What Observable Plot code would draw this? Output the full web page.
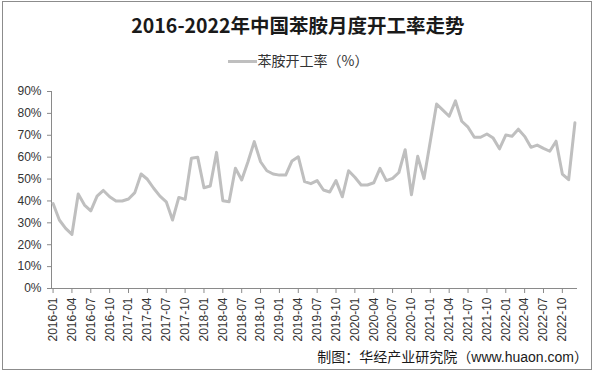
<!DOCTYPE html>
<html>
<head>
<meta charset="utf-8">
<script src="https://cdn.jsdelivr.net/npm/d3@7"></script>
<script src="https://cdn.jsdelivr.net/npm/@observablehq/plot@0.6"></script>
<style>
  body { margin: 0; background: #fff; }
  #wrap { position: relative; width: 596px; height: 374px; overflow: hidden; background: #fff;
          font-family: "Liberation Sans", "Noto Sans CJK SC", sans-serif; }
  #border { position: absolute; left: 2px; top: 1px; width: 590px; height: 369px;
            border: 1px solid #8c8c8c; box-sizing: border-box; }
  #title { position: absolute; left: 0; width: 596px; top: 11px; text-align: center;
           font-family: "Noto Sans CJK SC", sans-serif; font-weight: bold; font-size: 19.5px;
           color: #1a1a1a; line-height: 28px; }
  #legend { position: absolute; left: 0; width: 596px; top: 50px; text-align: center;
            font-family: "Noto Sans CJK SC", sans-serif; font-size: 14px; color: #333; line-height: 20px; }
  #legend .sw { display: inline-block; width: 29px; height: 3px; background: #bfbfbf;
                vertical-align: middle; margin-right: 1px; position: relative; top: -1px; }
  #chart { position: absolute; left: 0; top: 0; }
  #chart text { fill: #333; }
  #caption { position: absolute; right: 8px; top: 347px; font-size: 14px; color: #1a1a1a;
             font-family: "Liberation Sans", "Noto Sans CJK SC", sans-serif; line-height: 20px; }
</style>
</head>
<body>
<div id="wrap">
  <div id="border"></div>
  <div id="chart"></div>
  <div id="title">2016-2022年中国苯胺月度开工率走势</div>
  <div id="legend"><span class="sw"></span>苯胺开工率（%）</div>
  <div id="caption">制图：华经产业研究院（www.huaon.com）</div>
</div>
<script>
// Categories: months 2016-01 .. 2022-12
const years = [2016, 2017, 2018, 2019, 2020, 2021, 2022];
const monthNums = ["01","02","03","04","05","06","07","08","09","10","11","12"];
const months = [];
for (const y of years) for (const m of monthNums) months.push(y + "-" + m);

// Series values (%)
const rate = [
  38.8, 31.3, 27.5, 24.7, 43.2, 38.1, 35.5, 42.2, 44.8, 41.9, 40.0, 40.0,
  40.9, 43.8, 52.3, 49.9, 45.8, 42.2, 39.6, 31.3, 41.6, 40.7, 59.5, 60.0,
  46.0, 46.8, 62.2, 40.1, 39.6, 54.9, 49.6, 57.9, 67.1, 57.9, 53.8, 52.3,
  51.8, 51.8, 58.3, 60.2, 48.8, 47.9, 49.3, 45.0, 44.1, 49.3, 41.9, 53.8,
  50.8, 47.3, 47.3, 48.3, 54.9, 49.3, 50.3, 53.0, 63.4, 42.8, 60.4, 50.2,
  67.3, 84.3, 81.5, 78.7, 85.7, 76.4, 73.7, 69.1, 69.1, 70.6, 68.7, 63.8,
  70.1, 69.6, 72.8, 69.5, 64.5, 65.5, 64.0, 62.7, 67.3, 52.3, 49.7, 75.7
];

// Tick labels
const xTickLabels = months.filter((d, i) => i % 3 === 0);
const yTicks = [0, 10, 20, 30, 40, 50, 60, 70, 80, 90];

const data = months.map((m, i) => ({ month: m, rate: rate[i] }));

const chart = Plot.plot({
  width: 596,
  height: 374,
  marginTop: 91,
  marginBottom: 86,
  marginLeft: 51,
  marginRight: 20,
  style: { fontFamily: "Liberation Sans, Noto Sans CJK SC, sans-serif", fontSize: "12px",
           color: "#8a8a8a", background: "transparent", overflow: "visible" },
  x: { type: "point", domain: months, padding: 0.25, round: false, ticks: xTickLabels, tickRotate: -90,
       tickSize: 5, tickPadding: 4, label: null, line: true },
  y: { domain: [0, 90], ticks: yTicks, tickFormat: d => d + "%", tickSize: 4, tickPadding: 6,
       label: null, line: true },
  marks: [
    Plot.line(data, { x: "month", y: "rate", stroke: "#bfbfbf", strokeWidth: 3,
                      strokeLinejoin: "round", strokeLinecap: "round" })
  ]
});
document.getElementById("chart").appendChild(chart);
</script>
</body>
</html>
